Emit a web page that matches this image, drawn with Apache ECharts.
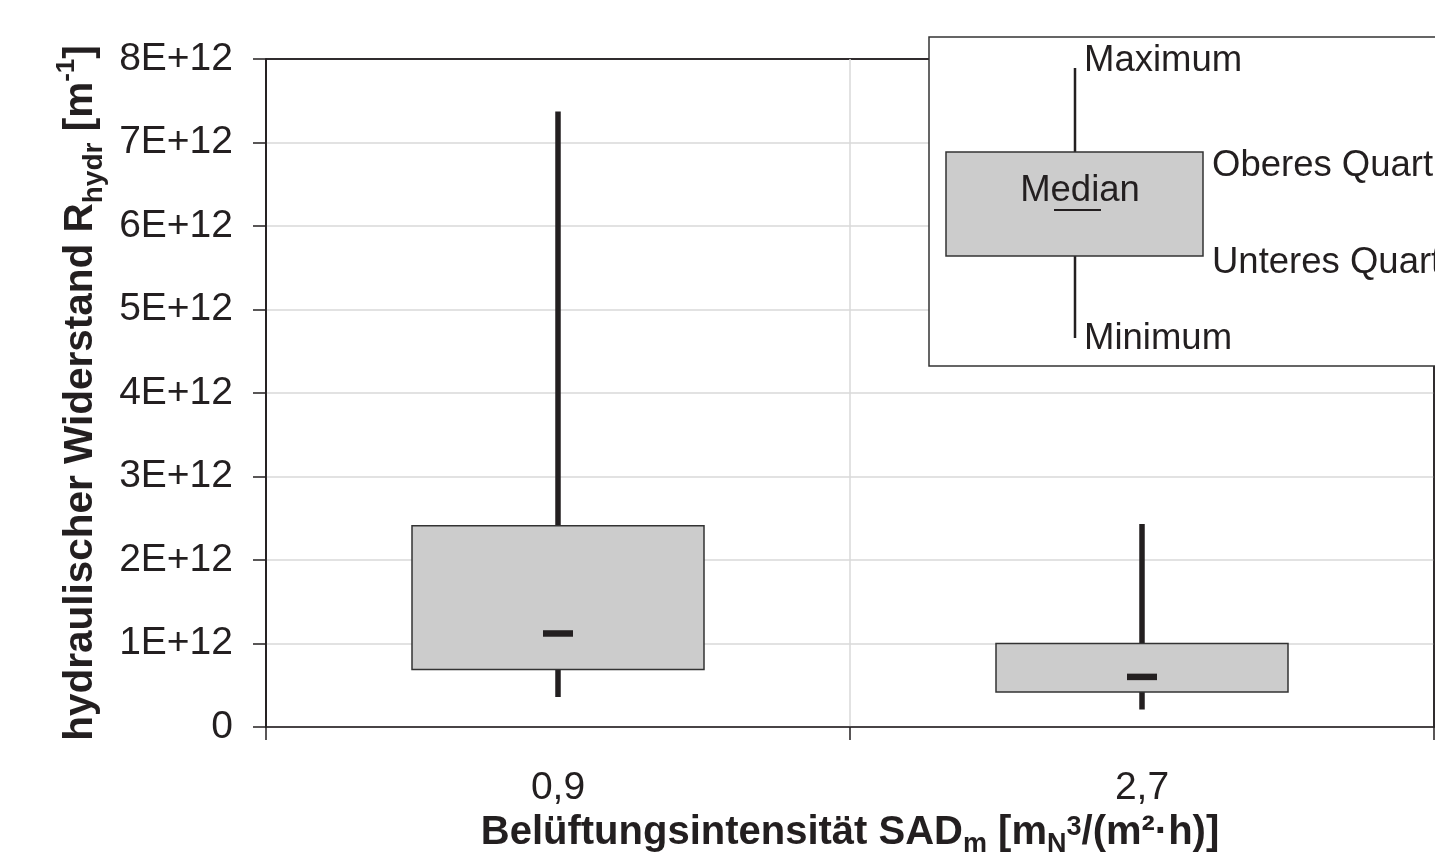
<!DOCTYPE html>
<html>
<head>
<meta charset="utf-8">
<script src="https://cdn.jsdelivr.net/npm/echarts@6/dist/echarts.min.js"></script>
<style>
html,body{margin:0;padding:0;background:#fff;}
#chart{width:1435px;height:857px;}
</style>
</head>
<body>
<div id="chart"></div>
<script>
// ---- data ----
const categories = ['0,9', '2,7'];
const minimum     = [0.36e12, 0.21e12];
const lowerQuart  = [0.69e12, 0.42e12];
const median      = [1.12e12, 0.60e12];
const upperQuart  = [2.41e12, 1.00e12];
const maximum     = [7.37e12, 2.43e12];
const yTicks = ['0', '1E+12', '2E+12', '3E+12', '4E+12', '5E+12', '6E+12', '7E+12', '8E+12'];
const legendLabels = { max: 'Maximum', q3: 'Oberes Quartil', med: 'Median', q1: 'Unteres Quartil', min: 'Minimum' };

const boxData = categories.map((c, i) => [i, minimum[i], lowerQuart[i], median[i], upperQuart[i], maximum[i]]);

const dark = '#231f20';
const grid = '#d9d9d9';
const FONT = '"Liberation Sans", Arial, sans-serif';

const chart = echarts.init(document.getElementById('chart'), null, { renderer: 'canvas' });

const option = {
  backgroundColor: '#ffffff',
  animation: false,
  grid: {
    left: 266, right: 1, top: 59, bottom: 130,
    show: true, borderColor: dark, borderWidth: 1.5, backgroundColor: '#ffffff',
    containLabel: false, outerBoundsMode: 'none'
  },
  xAxis: {
    type: 'category',
    data: categories,
    boundaryGap: true,
    axisLine: { show: true, lineStyle: { color: dark, width: 1.5 } },
    axisTick: { show: true, length: 13, lineStyle: { color: dark, width: 1.5 } },
    axisLabel: { color: dark, fontFamily: FONT, fontSize: 39, margin: 42 },
    splitLine: { show: true, lineStyle: { color: [dark, grid, dark], width: 1.5 } },
    name: '{b|Belüftungsintensität SAD}{sub|m}{b| [m}{sub|N}{sup|3}{b|/(m²·h)]}',
    nameLocation: 'middle',
    nameGap: 50,
    nameTextStyle: {
      color: dark, fontFamily: FONT, fontWeight: 'bold', fontSize: 40,
      rich: {
        b: { color: dark, fontFamily: FONT, fontWeight: 'bold', fontSize: 40 },
        sub: { color: dark, fontFamily: FONT, fontWeight: 'bold', fontSize: 27, padding: [24, 0, 0, 0] },
        sup: { color: dark, fontFamily: FONT, fontWeight: 'bold', fontSize: 27, padding: [0, 0, 10, 0] }
      }
    }
  },
  yAxis: {
    type: 'value',
    min: 0, max: 8e12, interval: 1e12,
    axisLine: { show: true, lineStyle: { color: dark, width: 1.5 } },
    axisTick: { show: true, length: 13, lineStyle: { color: dark, width: 1.5 } },
    axisLabel: {
      color: dark, fontFamily: FONT, fontSize: 39, margin: 33, padding: [6, 0, 0, 0],
      formatter: (v) => yTicks[Math.round(v / 1e12)]
    },
    splitLine: { show: true, lineStyle: { color: [grid, grid, grid, grid, grid, grid, grid, grid, dark], width: 1.5 } },
    name: '{b|hydraulischer Widerstand R}{sub|hydr}{b| [m}{sup|-1}{b|]}',
    nameLocation: 'middle',
    nameGap: 151,
    nameTextStyle: {
      color: dark, fontFamily: FONT, fontWeight: 'bold', fontSize: 40.5,
      rich: {
        b: { color: dark, fontFamily: FONT, fontWeight: 'bold', fontSize: 40.5 },
        sub: { color: dark, fontFamily: FONT, fontWeight: 'bold', fontSize: 28, padding: [26, 0, 0, 0] },
        sup: { color: dark, fontFamily: FONT, fontWeight: 'bold', fontSize: 26, padding: [0, 0, 28, 0] }
      }
    }
  },
  series: [{
    type: 'custom',
    data: boxData,
    encode: { x: 0, y: [1, 2, 3, 4, 5] },
    clip: false,
    renderItem: function (params, api) {
      const xi = api.value(0);
      const pMin = api.coord([xi, api.value(1)]);
      const pQ1 = api.coord([xi, api.value(2)]);
      const pMed = api.coord([xi, api.value(3)]);
      const pQ3 = api.coord([xi, api.value(4)]);
      const pMax = api.coord([xi, api.value(5)]);
      const bw = api.size([1, 0])[0] * 0.5;
      const cx = pMin[0];
      return {
        type: 'group',
        children: [
          { type: 'line', shape: { x1: cx, y1: pMin[1], x2: cx, y2: pMax[1] },
            style: { stroke: dark, lineWidth: 5.5 } },
          { type: 'rect', shape: { x: cx - bw / 2, y: pQ3[1], width: bw, height: pQ1[1] - pQ3[1] },
            style: { fill: '#cccccc', stroke: '#333333', lineWidth: 1.5 } },
          { type: 'rect', shape: { x: cx - 15, y: pMed[1] - 3.25, width: 30, height: 6.5 },
            style: { fill: dark } }
        ]
      };
    }
  }],
  graphic: [
    { type: 'rect', z: 100, shape: { x: 929, y: 37, width: 520, height: 329 },
      style: { fill: '#ffffff', stroke: '#333333', lineWidth: 1.5 } },
    { type: 'line', z: 101, shape: { x1: 1075, y1: 68, x2: 1075, y2: 338 },
      style: { stroke: dark, lineWidth: 2.5 } },
    { type: 'rect', z: 102, shape: { x: 946, y: 152, width: 257, height: 104 },
      style: { fill: '#cccccc', stroke: '#333333', lineWidth: 1.5 } },
    { type: 'line', z: 103, shape: { x1: 1054, y1: 210, x2: 1101, y2: 210 },
      style: { stroke: dark, lineWidth: 2 } },
    { type: 'text', z: 103, x: 1084, y: 61,
      style: { text: legendLabels.max, fill: dark, font: '36.5px ' + FONT, textVerticalAlign: 'middle', textAlign: 'left' } },
    { type: 'text', z: 103, x: 1212, y: 166,
      style: { text: legendLabels.q3, fill: dark, font: '36.5px ' + FONT, textVerticalAlign: 'middle', textAlign: 'left' } },
    { type: 'text', z: 103, x: 1080, y: 191,
      style: { text: legendLabels.med, fill: dark, font: '36.5px ' + FONT, textVerticalAlign: 'middle', textAlign: 'center' } },
    { type: 'text', z: 103, x: 1212, y: 263,
      style: { text: legendLabels.q1, fill: dark, font: '36.5px ' + FONT, textVerticalAlign: 'middle', textAlign: 'left' } },
    { type: 'text', z: 103, x: 1084, y: 339,
      style: { text: legendLabels.min, fill: dark, font: '36.5px ' + FONT, textVerticalAlign: 'middle', textAlign: 'left' } }
  ]
};
chart.setOption(option);
</script>
</body>
</html>
